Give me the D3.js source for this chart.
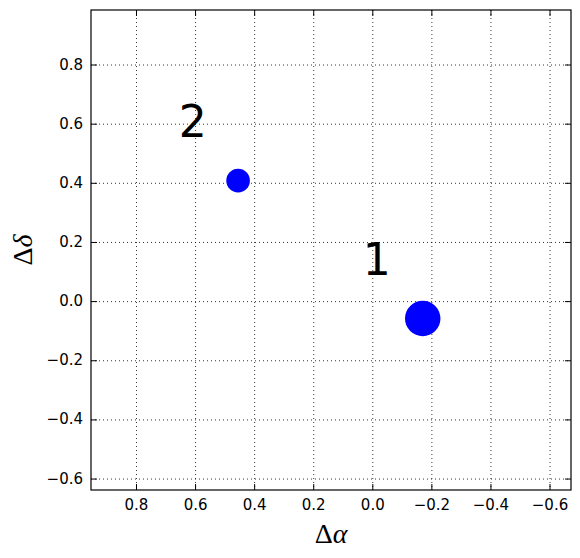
<!DOCTYPE html>
<html><head><meta charset="utf-8">
<script src="https://cdn.jsdelivr.net/npm/d3@7/dist/d3.min.js"></script>
<style>body{margin:0;background:#fff}</style>
</head><body>
<svg id="c" width="580" height="558"></svg>
<script>
const xTicks = [0.8, 0.6, 0.4, 0.2, 0.0, -0.2, -0.4, -0.6];
const yTicks = [0.8, 0.6, 0.4, 0.2, 0.0, -0.2, -0.4, -0.6];
const pointX = [-0.169, 0.456];
const pointY = [-0.057, 0.409];
const pointR = [0.06, 0.04];
const labels = ["1", "2"];
const labelX = [0.034, 0.657];
const labelY = [0.0895, 0.555];

const svg = d3.select("#c");
const L = 91, R = 571, T = 10, B = 490;
const x = d3.scaleLinear().domain([0.954, -0.671]).range([L, R]);
const y = d3.scaleLinear().domain([-0.637, 0.986]).range([B, T]);
const fmt = v => (v < 0 ? "\u2212" : "") + Math.abs(v).toFixed(1);

// grid
const g = svg.append("g");
xTicks.forEach(t => g.append("line").attr("x1", x(t)).attr("x2", x(t)).attr("y1", T).attr("y2", B)
  .attr("stroke", "#000").attr("stroke-width", 0.8).attr("stroke-dasharray", "1,3"));
yTicks.forEach(t => g.append("line").attr("y1", y(t)).attr("y2", y(t)).attr("x1", L).attr("x2", R)
  .attr("stroke", "#000").attr("stroke-width", 0.8).attr("stroke-dasharray", "1,3"));

// points
pointX.forEach((px, i) => {
  svg.append("circle").attr("cx", x(px)).attr("cy", y(pointY[i]))
    .attr("r", x(0) - x(pointR[i])).attr("fill", "#0000ff");
});
// labels
labels.forEach((l, i) => {
  svg.append("text").attr("x", x(labelX[i])).attr("y", y(labelY[i]))
    .attr("font-family", "DejaVu Sans").attr("font-size", 44).attr("fill", "#000").text(l);
});

// axes (ticks inward on all sides)
const ax = svg.append("g");
const tl = 6;
xTicks.forEach(t => {
  ax.append("line").attr("x1", x(t)).attr("x2", x(t)).attr("y1", B).attr("y2", B - tl).attr("stroke", "#000");
  ax.append("line").attr("x1", x(t)).attr("x2", x(t)).attr("y1", T).attr("y2", T + tl).attr("stroke", "#000");
  ax.append("text").attr("x", x(t)).attr("y", B + 20).attr("text-anchor", "middle")
    .attr("font-family", "DejaVu Sans").attr("font-size", 15).text(fmt(t));
});
yTicks.forEach(t => {
  ax.append("line").attr("y1", y(t)).attr("y2", y(t)).attr("x1", L).attr("x2", L + tl).attr("stroke", "#000");
  ax.append("line").attr("y1", y(t)).attr("y2", y(t)).attr("x1", R).attr("x2", R - tl).attr("stroke", "#000");
  ax.append("text").attr("x", L - 8).attr("y", y(t) + 4.5).attr("text-anchor", "end")
    .attr("font-family", "DejaVu Sans").attr("font-size", 15).text(fmt(t));
});
svg.append("rect").attr("x", L).attr("y", T).attr("width", R - L).attr("height", B - T)
  .attr("fill", "none").attr("stroke", "#000").attr("stroke-width", 1.2);

// axis labels
const xl = svg.append("text").attr("x", (L + R) / 2).attr("y", 543).attr("text-anchor", "middle")
  .attr("font-family", "Liberation Serif").attr("font-size", 28);
xl.append("tspan").text("\u0394");
xl.append("tspan").attr("font-style", "italic").text("\u03b1");
const yl = svg.append("text").attr("transform", `translate(32,${(T + B) / 2}) rotate(-90)`)
  .attr("text-anchor", "middle").attr("font-family", "Liberation Serif").attr("font-size", 28);
yl.append("tspan").text("\u0394");
yl.append("tspan").attr("font-style", "italic").text("\u03b4");
</script>
</body></html>
